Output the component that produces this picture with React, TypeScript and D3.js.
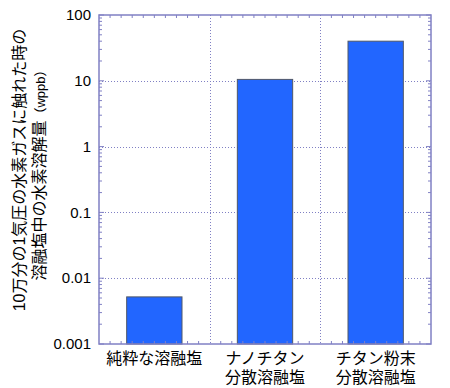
import * as d3 from "d3";

// categories and values
const categories = ["純粋な溶融塩", "ナノチタン\n分散溶融塩", "チタン粉末\n分散溶融塩"];
const values = [0.0052, 10.5, 40];
const yTicks = [0.001, 0.01, 0.1, 1, 10, 100];
const yTickLabels = ["0.001", "0.01", "0.1", "1", "10", "100"];
const titleLines = ["10万分の1気圧の水素ガスに触れた時の", "溶融塩中の水素溶解量"];

export default function App() {
    const width = 450, height = 388;
    const left = 99, right = 431, top = 15, bottom = 344;
    const axisColor = "#8080c4";
    const font = "'Liberation Sans', Arial, 'Noto Sans CJK JP', sans-serif";

    const y = d3.scaleLog().domain([0.001, 100]).range([bottom, top]);
    const x = d3.scaleBand().domain(categories).range([left, right])
        .paddingInner(0.5).paddingOuter(0.25);
    const step = x.step();

    // minor log ticks 2..9 for every decade
    const minor: number[] = [];
    for (let i = 0; i < yTicks.length - 1; i++) {
        for (let k = 2; k <= 9; k++) minor.push(yTicks[i] * k);
    }
    // minor ticks along top and bottom: 10 per category
    const xMinor: number[] = [];
    for (let i = 0; i < categories.length * 10; i++) {
        if (i % 10 !== 0) xMinor.push(left + (i * step) / 10);
    }
    const bandEdges = d3.range(1, categories.length).map(i => left + i * step);

    return (
        <svg width={width} height={height} style={{position: "absolute", left: 0, top: 0}}
             fontFamily={font}>
            <rect x={0} y={0} width={width} height={height} fill="#fff" />

            {/* dotted grid */}
            <g stroke={axisColor} strokeWidth={1} strokeDasharray="1,2">
                {yTicks.slice(1, -1).map(t => (
                    <line key={t} x1={left} x2={right} y1={Math.round(y(t)) + 0.5} y2={Math.round(y(t)) + 0.5} />
                ))}
                {bandEdges.map(e => (
                    <line key={e} x1={Math.round(e) + 0.5} x2={Math.round(e) + 0.5} y1={top} y2={bottom} />
                ))}
            </g>

            {/* bars */}
            {values.map((v, i) => (
                <rect key={i} x={x(categories[i])} y={y(v)} width={x.bandwidth()}
                      height={bottom - y(v)} fill="#2266ff" stroke="#505868" strokeWidth={1} />
            ))}

            {/* ticks */}
            <g stroke={axisColor} strokeWidth={1}>
                {minor.map(t => (
                    <g key={t}>
                        <line x1={left} x2={left + 3} y1={y(t)} y2={y(t)} />
                        <line x1={right} x2={right - 3} y1={y(t)} y2={y(t)} />
                    </g>
                ))}
                {yTicks.map(t => (
                    <g key={t}>
                        <line x1={left} x2={left + 5} y1={y(t)} y2={y(t)} />
                        <line x1={right} x2={right - 5} y1={y(t)} y2={y(t)} />
                    </g>
                ))}
                {xMinor.map(p => (
                    <g key={p}>
                        <line x1={p} x2={p} y1={top} y2={top + 3} />
                        <line x1={p} x2={p} y1={bottom} y2={bottom - 3} />
                    </g>
                ))}
            </g>

            {/* frame */}
            <rect x={left} y={top} width={right - left} height={bottom - top}
                  fill="none" stroke={axisColor} strokeWidth={1.5} />

            {/* y tick labels */}
            <g fontSize={15} fill="#000" textAnchor="end">
                {yTicks.map((t, i) => (
                    <text key={t} x={left - 8} y={y(t)} dy="0.35em">{yTickLabels[i]}</text>
                ))}
            </g>

            {/* category labels */}
            <g fontSize={16} fill="#000" textAnchor="middle">
                {categories.map(c => (
                    <text key={c} x={x(c)! + x.bandwidth() / 2} y={bottom + 20}>
                        {c.split("\n").map((l, j) => (
                            <tspan key={j} x={x(c)! + x.bandwidth() / 2} dy={j === 0 ? 0 : 19}>{l}</tspan>
                        ))}
                    </text>
                ))}
            </g>

            {/* y axis title */}
            <g fill="#000" textAnchor="middle">
                <text transform="translate(25,170) rotate(-90)" fontSize={16}>{titleLines[0]}</text>
                <text transform="translate(45,172) rotate(-90)" fontSize={16}>
                    {titleLines[1]}<tspan fontSize={13}>（wppb）</tspan>
                </text>
            </g>
        </svg>
    );
}
